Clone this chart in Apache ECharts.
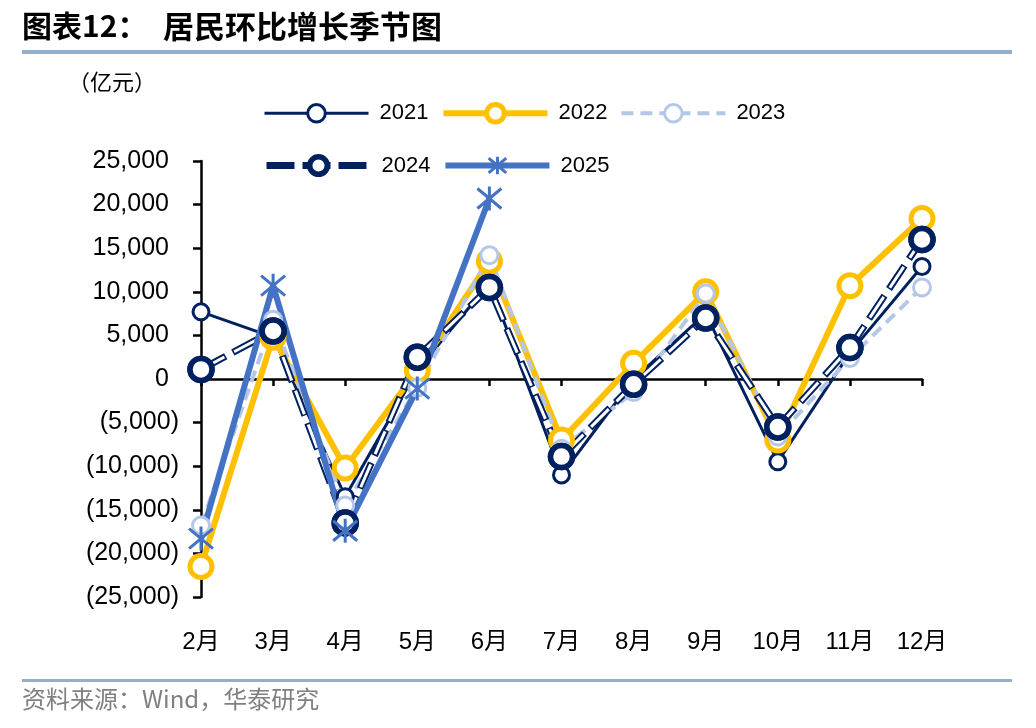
<!DOCTYPE html>
<html><head><meta charset="utf-8">
<script src="https://cdn.jsdelivr.net/npm/echarts@6/dist/echarts.min.js"></script>
<style>html,body{margin:0;padding:0;background:#fff}#c{width:1036px;height:728px}</style>
</head><body><div id="c"></div>
<script>
const categories = ['2月','3月','4月','5月','6月','7月','8月','9月','10月','11月','12月'];
const s2021 = [7700, 4800, -13500, 1000, 11000, -11000, 0, 7500, -9500, 3000, 12900];
const s2022 = [-21500, 4800, -10200, 1000, 13500, -7000, 1800, 10000, -7000, 10700, 18400];
const s2023 = [-16800, 6800, -14500, -1000, 14200, -8000, -1500, 9800, -6600, 2400, 10500];
const s2024 = [1100, 5500, -16500, 2500, 10500, -8900, -600, 7000, -5500, 3600, 16000];
const s2025 = [-18300, 10700, -17400, -1100, 20700];
const yMin = -25000, yMax = 25000, yStep = 5000;

const NAVY = '#002060', GOLD = '#FFC000', LIGHT = '#B4C7E7', BLUE = '#4472C4';
const FONT = '"Liberation Sans", "Noto Sans CJK SC", sans-serif';

function fmtY(v){
  const s = Math.abs(v).toLocaleString('en-US');
  return v < 0 ? '(' + s + ')' : '{p|' + s + '}';
}

const chart = echarts.init(document.getElementById('c'), null, {renderer:'canvas'});
const legendCommon = {
  left: 258, itemWidth: 104, itemHeight: 22, itemGap: 12,
  textStyle: {fontSize: 22, fontFamily: FONT, color: '#000', padding: [0,0,0,6]},
  lineStyle: {width: 'inherit'}, itemStyle: {borderWidth: 'inherit'},
  selectedMode: false
};
chart.setOption({
  animation: false,
  backgroundColor: '#fff',
  grid: {left: 201, right: 114, top: 161, bottom: 131, containLabel: false},
  legend: [
    Object.assign({}, legendCommon, {top: 97, data: ['2021','2022','2023']}),
    Object.assign({}, legendCommon, {top: 149, data: ['2024','2025']})
  ],
  xAxis: [
    {type: 'category', data: categories, boundaryGap: false, position: 'bottom',
     axisLine: {show: true, onZero: true, lineStyle: {color: '#000', width: 2.5}},
     axisTick: {show: true, length: 7, lineStyle: {color: '#000', width: 2.5}},
     axisLabel: {show: false}, splitLine: {show: false}},
    {type: 'category', data: categories, boundaryGap: false, position: 'bottom',
     axisLine: {show: false, onZero: false}, axisTick: {show: false},
     axisLabel: {show: true, fontSize: 24, fontFamily: FONT, color: '#000', margin: 33},
     splitLine: {show: false}}
  ],
  yAxis: {type: 'value', min: yMin, max: yMax, interval: yStep,
    axisLine: {show: true, onZero: false, lineStyle: {color: '#000', width: 2.5}},
    axisTick: {show: true, length: 8, lineStyle: {color: '#000', width: 2.5}},
    splitLine: {show: false},
    axisLabel: {fontSize: 25, fontFamily: FONT, color: '#000', margin: 22, formatter: fmtY,
      rich: {p: {fontSize: 25, fontFamily: FONT, color: '#000', padding: [0, 10, 0, 0]}}}
  },
  graphic: [
    {type: 'text', left: 22, top: 11, style: {text: '图表12：', font: 'bold 30px "Noto Sans CJK SC"', fill: '#000'}},
    {type: 'text', left: 163, top: 11, style: {text: '居民环比增长季节图', font: 'bold 31px "Noto Sans CJK SC"', fill: '#000'}},
    {type: 'rect', shape: {x: 22, y: 50, width: 990, height: 4}, style: {fill: '#94AECB'}},
    {type: 'text', left: 68, top: 71, style: {text: '（亿元）', font: '22px "Noto Sans CJK SC"', fill: '#000'}},
    {type: 'rect', shape: {x: 22, y: 679, width: 990, height: 3}, style: {fill: '#94AECB'}},
    {type: 'text', left: 22, top: 687, style: {text: '资料来源：Wind，华泰研究', font: '24px "Noto Sans CJK SC"', fill: '#808080'}}
  ],
  series: [
    {name: '2021', type: 'line', data: s2021, symbol: 'circle', symbolSize: 16,
     lineStyle: {color: NAVY, width: 3}, itemStyle: {color: '#fff', borderColor: NAVY, borderWidth: 3}},
    {name: '2022', type: 'line', data: s2022, symbol: 'circle', symbolSize: 22,
     lineStyle: {color: GOLD, width: 6}, itemStyle: {color: '#fff', borderColor: GOLD, borderWidth: 5}},
    {name: '2023', type: 'line', data: s2023, symbol: 'circle', symbolSize: 17,
     lineStyle: {color: LIGHT, width: 4, type: [12, 7]}, itemStyle: {color: '#fff', borderColor: LIGHT, borderWidth: 3}},
    {name: '2024', type: 'line', data: s2024, symbol: 'circle', symbolSize: 22,
     lineStyle: {color: NAVY, width: 7, type: [28, 8]}, itemStyle: {color: '#fff', borderColor: NAVY, borderWidth: 5.5}},
    {name: '2024', type: 'line', data: s2024, symbol: 'none', silent: true,
     lineStyle: {color: '#fff', width: 3, type: [25, 11], dashOffset: 34.5}},
    {name: '2024', type: 'line', data: s2024, symbol: 'circle', symbolSize: 22, silent: true,
     lineStyle: {width: 0, opacity: 0}, itemStyle: {color: '#fff', borderColor: NAVY, borderWidth: 5.5}},
    {name: '2025', type: 'line', data: s2025, symbol: 'path://M0,0L20,20M20,0L0,20M10,-2L10,22', symbolSize: 24,
     lineStyle: {color: BLUE, width: 6}, itemStyle: {color: BLUE, borderColor: BLUE, borderWidth: 3}}
  ]
});
</script></body></html>
